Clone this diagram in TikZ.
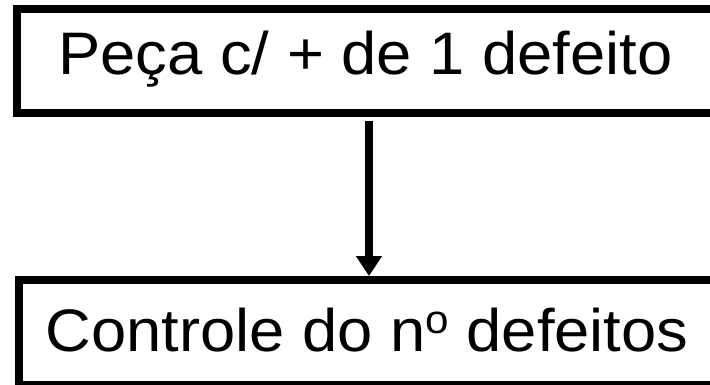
\documentclass[tikz,border=0pt]{standalone}
\usepackage{fontspec}
\setmainfont{Liberation Sans}
\usetikzlibrary{arrows.meta}
\newcommand{\wide}[1]{\scalebox{1.055}[1]{#1}}
\begin{document}
\begin{tikzpicture}[x=1pt,y=-1pt,
  boxstyle/.style={draw=black,line width=8pt,rectangle,inner sep=0pt,
    minimum width=697pt,text height=43pt,
    font=\fontsize{60pt}{72pt}\selectfont},
  arrowstyle/.style={line width=8pt,-{Triangle[width=25pt,length=20pt]}}]
\useasboundingbox (0,0) rectangle (710,385);
\clip (0,0) rectangle (710,385);
\fill[white] (0,0) rectangle (710,385);
\node[boxstyle,minimum height=104pt,text depth=15pt] (a) at (365.5,61) {\wide{Peça c/ + de 1 defeito}};
\node[boxstyle,minimum height=105pt,text depth=6pt] (b) at (367,332.5) {\wide{Controle do n\raisebox{0.3em}{\fontsize{40pt}{40pt}\selectfont o} defeitos}};
\draw[arrowstyle,shorten <=4pt] ([xshift=3.5pt]a.south) -- ([xshift=2pt]b.north);
\end{tikzpicture}
\end{document}
